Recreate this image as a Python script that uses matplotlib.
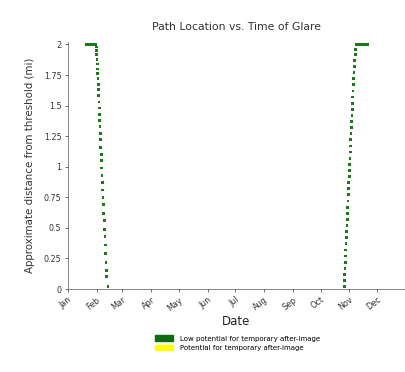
import matplotlib
matplotlib.use('Agg')
import matplotlib.pyplot as plt
import matplotlib.dates as mdates
from matplotlib.patches import Patch
import pandas as pd

# Дни от 1 января (дробные) и расстояния
left_top_days = [20.5, 21.0, 21.5, 22.0, 22.5, 23.0, 23.5, 24.0, 24.5, 25.0, 25.5,
                 26.0, 26.5, 27.0, 27.5, 28.0, 28.5, 29.0, 29.5, 30.0, 30.5]
left_top_dist = [2.0] * len(left_top_days)

left_fall_days = [30.8, 31.0, 31.2, 31.5, 31.7, 32.0, 32.2, 32.5, 32.8, 33.0, 33.3,
                  33.6, 33.9, 34.2, 34.5, 34.8, 35.1, 35.4, 35.7, 36.0, 36.3, 36.7,
                  37.0, 37.4, 37.7, 38.1, 38.5, 38.9, 39.3, 39.7, 40.1, 40.5, 40.9,
                  41.3, 41.8, 42.2, 43.4]
left_fall_dist = [1.98, 1.95, 1.92, 1.88, 1.84, 1.80, 1.76, 1.72, 1.67, 1.63, 1.58,
                  1.53, 1.48, 1.43, 1.38, 1.33, 1.27, 1.22, 1.16, 1.10, 1.05, 0.99,
                  0.93, 0.87, 0.81, 0.75, 0.69, 0.62, 0.56, 0.49, 0.43, 0.36, 0.29,
                  0.22, 0.15, 0.10, 0.02]

right_rise_days = [298.5, 298.8, 299.1, 299.4, 299.7, 300.0, 300.3, 300.6, 300.9, 301.2,
                   301.5, 301.8, 302.1, 302.4, 302.7, 303.0, 303.3, 303.6, 303.9, 304.2,
                   304.5, 304.8, 305.1, 305.4, 305.7, 306.0, 306.3, 306.6, 306.9, 307.2,
                   307.5, 307.8, 308.1, 308.4, 308.8, 309.2, 309.6, 310.0, 310.5, 311.0]
right_rise_dist = [0.02, 0.07, 0.12, 0.17, 0.22, 0.27, 0.32, 0.37, 0.42, 0.47,
                   0.52, 0.57, 0.62, 0.67, 0.72, 0.77, 0.82, 0.87, 0.92, 0.97,
                   1.02, 1.07, 1.12, 1.17, 1.22, 1.27, 1.32, 1.37, 1.42, 1.47,
                   1.52, 1.57, 1.62, 1.67, 1.72, 1.77, 1.82, 1.87, 1.92, 1.96]

right_top_days = [311.5, 312.0, 312.5, 313.0, 313.5, 314.0, 314.5, 315.0, 315.5, 316.0,
                  316.5, 317.0, 317.5, 318.0, 318.5, 319.0, 319.5, 320.0, 320.5, 321.0,
                  321.5, 322.0, 322.5, 323.0, 323.5]
right_top_dist = [2.0] * len(right_top_days)

y_ticks = [0, 0.25, 0.5, 0.75, 1, 1.25, 1.5, 1.75, 2]
y_tick_labels = ['0', '0.25', '0.5', '0.75', '1', '1.25', '1.5', '1.75', '2']

start = pd.Timestamp('2023-01-01')


def to_dates(days):
    return start + pd.to_timedelta(days, unit='D')


all_days = left_top_days + left_fall_days + right_rise_days + right_top_days
all_dist = left_top_dist + left_fall_dist + right_rise_dist + right_top_dist

fig = plt.figure(figsize=(4.06, 3.72), dpi=100)
ax = fig.add_axes([0.167, 0.223, 0.83, 0.664])

ax.scatter(to_dates(all_days), all_dist, marker='s', s=4, color='#1a7a1a',
           edgecolors='none', zorder=3)

ax.set_xlim(start, pd.Timestamp('2023-12-31'))
ax.set_ylim(0, 2.02)
ax.set_yticks(y_ticks)
ax.set_yticklabels(y_tick_labels)
ax.xaxis.set_major_locator(mdates.MonthLocator())
ax.xaxis.set_major_formatter(mdates.DateFormatter('%b'))
for lbl in ax.get_xticklabels():
    lbl.set_rotation(38)
    lbl.set_ha('right')
    lbl.set_rotation_mode('anchor')

ax.tick_params(labelsize=5.8, length=2.5, width=0.5, colors='#333333', pad=2)
for side in ['top', 'right']:
    ax.spines[side].set_visible(False)
for side in ['left', 'bottom']:
    ax.spines[side].set_linewidth(0.5)
    ax.spines[side].set_color('#555555')

ax.set_title('Path Location vs. Time of Glare', fontsize=7.8, color='#333333', pad=9)
ax.set_xlabel('Date', fontsize=8.5, color='#222222', labelpad=2)
ax.set_ylabel('Approximate distance from threshold (mi)', fontsize=7.4, color='#333333', labelpad=6)

handles = [Patch(color='#0f6b0f', label='Low potential for temporary after-image'),
           Patch(color='#ffff00', label='Potential for temporary after-image')]
fig.legend(handles=handles, loc='upper center', bbox_to_anchor=(0.585, 0.115),
           frameon=False, fontsize=5, handlelength=2.5, handleheight=0.8,
           labelspacing=0.5, handletextpad=1)

fig.savefig('out.png', dpi=100)
